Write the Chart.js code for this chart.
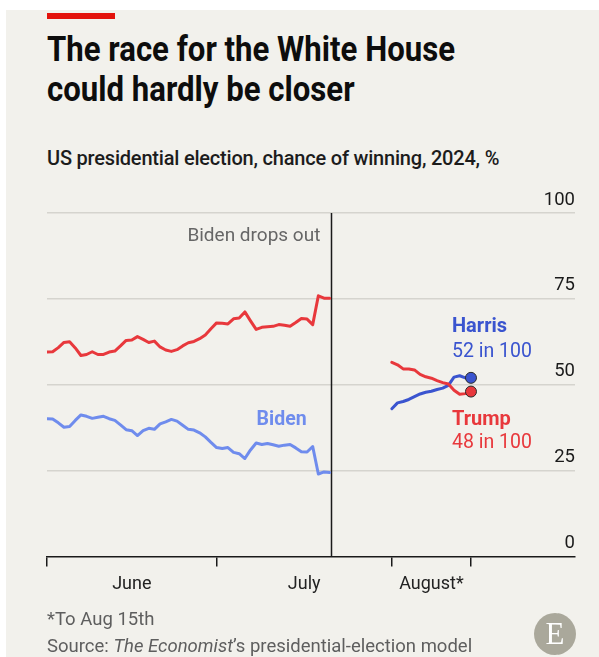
<!DOCTYPE html>
<html lang="en">
<head>
<meta charset="UTF-8">
<title>The race for the White House</title>
<script src="https://cdn.jsdelivr.net/npm/chart.js"></script>
<style>
  body { margin: 0; width: 599px; height: 657px; position: relative; overflow: hidden; background: #fff; font-family: Roboto, sans-serif; }
  .panel { position: absolute; left: 6px; top: 10px; right: 0; bottom: 0; background: #f2f1ec; }
  .redbar { position: absolute; left: 47px; top: 13px; width: 68px; height: 6px; background: #e3120b; }
  h1 { position: absolute; left: 47px; top: 30px; margin: 0; white-space: nowrap; font: 700 35px/40px Roboto, sans-serif; color: #0d0d0d; transform: scaleX(0.89); transform-origin: left top; }
  .sub { position: absolute; left: 47px; top: 146px; margin: 0; font: 500 20px/24px Roboto, sans-serif; letter-spacing: -0.2px; color: #1c1c1c; }
  #wrap { position: absolute; left: 0; top: 180px; }
  .foot { position: absolute; left: 47px; top: 606px; font: 400 18.5px/27px Roboto, sans-serif; color: #5e5e5e; }
  .logo { position: absolute; left: 534px; top: 613px; width: 42px; height: 42px; border-radius: 50%; background: #aaa89b; color: #fff; font: 400 31px/42px "Liberation Serif", serif; text-align: center; }
</style>
</head>
<body>
  <div class="panel"></div>
  <div class="redbar"></div>
  <h1>The race for the White House<br>could hardly be closer</h1>
  <p class="sub">US presidential election, chance of winning, 2024, %</p>
  <div id="wrap"><canvas id="raceChart" width="599" height="430"></canvas></div>
  <div class="foot">*To Aug 15th<br>Source: <i>The Economist</i>’s presidential-election model</div>
  <div class="logo">E</div>

<script>
  // days counted from June 1st
  const firstDayBefore = 0;     // Jun 1
  const firstDayAfter = 61;     // Aug 1
  const dropOutDay = 50.3;      // Jul 21
  const xMax = 93.4;

  const monthStarts = [0, 30, 61, 75];
  const monthLabels = ["June", "July", "August*"];
  const yTicks = [0, 25, 50, 75, 100];

  // daily chance of winning, %, Jun 1st - Jul 21st
  const trumpBefore = [59.5, 59.6, 60.8, 62.3, 62.5, 60.7, 58.5, 58.8, 59.6, 58.8,
    58.8, 59.5, 59.8, 61.3, 62.9, 63.0, 64.0, 63.2, 62.3, 62.7,
    61.0, 60.1, 59.7, 60.2, 61.3, 62.2, 62.6, 63.4, 64.5, 66.3,
    68.0, 67.9, 67.7, 69.2, 69.4, 71.2, 68.6, 66.1, 66.7, 66.9,
    67.0, 67.5, 67.3, 67.0, 68.1, 69.3, 69.1, 67.5, 75.9, 75.2, 75.2];
  const bidenBefore = [40.1, 40.0, 38.9, 37.6, 37.8, 39.6, 41.2, 40.8, 40.2, 40.5,
    40.8, 40.1, 39.6, 38.3, 36.9, 36.6, 35.2, 36.6, 37.3, 37.0,
    38.6, 39.2, 39.9, 39.4, 38.2, 37.0, 36.8, 36.0, 34.8, 33.2,
    31.7, 31.4, 31.7, 30.3, 29.9, 28.5, 31.0, 33.0, 32.6, 32.9,
    32.5, 32.1, 32.4, 32.6, 31.6, 30.5, 30.4, 32.0, 24.0, 24.6, 24.4];

  // Aug 1st - Aug 15th
  const harrisAfter = [43.0, 44.7, 45.1, 45.7, 46.5, 47.3, 47.8, 48.1, 48.6, 49.0,
    49.8, 52.2, 52.6, 52.0, 52];
  const trumpAfter = [56.5, 55.8, 54.6, 54.6, 54.3, 53.0, 52.3, 51.9, 51.2, 50.6,
    50.2, 48.4, 47.2, 47.4, 48];

  const trumpColor = "#e8383c";
  const harrisColor = "#3a54cf";
  const bidenColor = "#6f8ced";

  const toPoints = (vals, start) => vals.map((v, i) => ({ x: start + i, y: v }));

  const bidenPoints = toPoints(bidenBefore, firstDayBefore);
  const harrisPoints = toPoints(harrisAfter, firstDayAfter);
  // null point breaks the line between the two models
  const trumpPoints = toPoints(trumpBefore, firstDayBefore)
    .concat([{ x: 55, y: null }])
    .concat(toPoints(trumpAfter, firstDayAfter));

  const lastDot = pts => c => (c.dataIndex === pts.length - 1 ? 5.5 : 0);

  const annotations = {
    id: "annotations",
    beforeDatasetsDraw(chart) {
      const { ctx, scales: { x, y } } = chart;
      const px = Math.round(x.getPixelForValue(dropOutDay)) + 0.5;
      ctx.save();
      ctx.strokeStyle = "#1a1a1a";
      ctx.lineWidth = 1.5;
      ctx.beginPath();
      ctx.moveTo(px, y.getPixelForValue(100));
      ctx.lineTo(px, y.getPixelForValue(0));
      ctx.stroke();
      ctx.restore();
    },
    afterDatasetsDraw(chart) {
      const { ctx, scales: { x, y } } = chart;
      const top = y.getPixelForValue(100);
      ctx.save();
      ctx.textBaseline = "middle";

      ctx.font = "400 19px Roboto";
      ctx.fillStyle = "#666";
      ctx.textAlign = "right";
      ctx.fillText("Biden drops out", x.getPixelForValue(dropOutDay) - 11, top + 23);

      ctx.font = "700 19.5px Roboto";
      ctx.fillStyle = bidenColor;
      ctx.textAlign = "center";
      ctx.fillText("Biden", x.getPixelForValue(41.5), y.getPixelForValue(39.7));

      const hLast = harrisPoints[harrisPoints.length - 1];
      const tLast = trumpPoints[trumpPoints.length - 1];
      const lx = x.getPixelForValue(hLast.x) - 19;
      ctx.textAlign = "left";

      ctx.fillStyle = harrisColor;
      ctx.font = "700 20px Roboto";
      ctx.fillText("Harris", lx, y.getPixelForValue(hLast.y) - 51);
      ctx.font = "400 19.5px Roboto";
      ctx.fillText(Math.round(hLast.y) + " in 100", lx, y.getPixelForValue(hLast.y) - 26);

      ctx.fillStyle = trumpColor;
      ctx.font = "700 20px Roboto";
      ctx.fillText("Trump", lx, y.getPixelForValue(tLast.y) + 28);
      ctx.font = "400 19.5px Roboto";
      ctx.fillText(Math.round(tLast.y) + " in 100", lx, y.getPixelForValue(tLast.y) + 52);
      ctx.restore();
    }
  };

  Chart.defaults.font.family = "Roboto";

  const ctx = document.getElementById("raceChart").getContext("2d");
  new Chart(ctx, {
    type: "line",
    data: {
      datasets: [
        { label: "Biden", data: bidenPoints, borderColor: bidenColor, borderWidth: 3, pointRadius: 0 },
        {
          label: "Trump", data: trumpPoints, borderColor: trumpColor, borderWidth: 3,
          pointRadius: lastDot(trumpPoints), pointBackgroundColor: trumpColor,
          pointBorderColor: "#2a2a2a", pointBorderWidth: 1
        },
        {
          label: "Harris", data: harrisPoints, borderColor: harrisColor, borderWidth: 3,
          pointRadius: lastDot(harrisPoints), pointBackgroundColor: harrisColor,
          pointBorderColor: "#2a2a2a", pointBorderWidth: 1
        }
      ]
    },
    options: {
      responsive: false,
      animation: false,
      elements: { line: { borderJoinStyle: "round", borderCapStyle: "round", tension: 0 } },
      layout: { padding: { top: 33, left: 47, right: 24, bottom: 8 } },
      plugins: { legend: { display: false }, tooltip: { enabled: false } },
      scales: {
        x: {
          type: "linear", min: 0, max: xMax,
          afterBuildTicks: s => { s.ticks = monthStarts.map(v => ({ value: v })); },
          ticks: { display: false },
          grid: { drawOnChartArea: false, drawTicks: true, tickLength: 10, color: "#1a1a1a", lineWidth: 1.5 },
          border: { display: true, color: "#1a1a1a", width: 1.5 }
        },
        months: {
          type: "linear", position: "bottom", min: 0, max: xMax,
          afterBuildTicks: s => {
            s.ticks = monthLabels.map((m, i) => ({ value: (monthStarts[i] + monthStarts[i + 1]) / 2 }));
          },
          ticks: {
            callback: (v, i) => monthLabels[i], autoSkip: false, maxRotation: 0,
            padding: 7, color: "#222", font: { size: 18 }
          },
          grid: { display: false, drawTicks: false },
          border: { display: false }
        },
        y: {
          position: "right", min: 0, max: 100,
          afterBuildTicks: s => { s.ticks = yTicks.map(v => ({ value: v })); },
          ticks: { mirror: true, padding: 0, labelOffset: -13, color: "#1a1a1a", font: { size: 18.5 } },
          grid: {
            drawTicks: false, lineWidth: 1.5,
            color: c => (c.tick && c.tick.value === 0 ? "rgba(0,0,0,0)" : "#d5d4ce")
          },
          border: { display: false }
        }
      }
    },
    plugins: [annotations]
  });
</script>
</body>
</html>
